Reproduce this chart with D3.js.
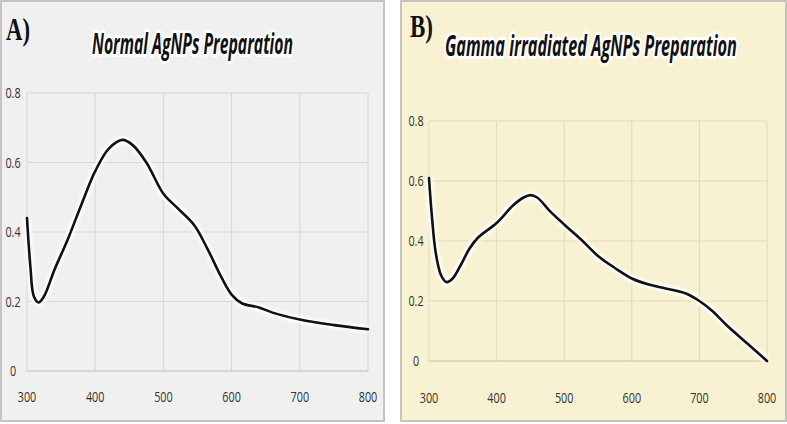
<!DOCTYPE html>
<html>
<head>
<meta charset="utf-8">
<style>
  body { margin: 0; background: #fff; }
  svg { display: block; }
</style>
</head>
<body>
<div class="chartContainer"></div>

<script src="https://d3js.org/d3.v7.min.js"></script>
<script>
    // data (wavelength nm, absorbance)
    const normalWl  = [300, 305, 310, 317, 325, 340, 360, 380, 400, 420, 440, 455, 475, 500, 520, 545, 565, 585, 600, 615, 640, 660, 700, 750, 800];
    const normalAbs = [0.44, 0.30, 0.215, 0.197, 0.215, 0.29, 0.38, 0.48, 0.575, 0.64, 0.665, 0.65, 0.60, 0.51, 0.47, 0.42, 0.35, 0.27, 0.22, 0.195, 0.183, 0.168, 0.148, 0.132, 0.12];

    const gammaWl  = [300, 304, 310, 318, 326, 335, 347, 360, 372, 400, 425, 440, 450, 460, 480, 500, 525, 550, 575, 600, 625, 650, 680, 700, 720, 740, 770, 800];
    const gammaAbs = [0.61, 0.49, 0.36, 0.285, 0.263, 0.275, 0.32, 0.375, 0.41, 0.46, 0.52, 0.545, 0.553, 0.545, 0.497, 0.455, 0.405, 0.35, 0.31, 0.275, 0.255, 0.242, 0.225, 0.20, 0.165, 0.12, 0.06, 0.0];

    const xTicks = [300, 400, 500, 600, 700, 800];
    const yTicks = [0, 0.2, 0.4, 0.6, 0.8];

    const svg = d3.select('.chartContainer')
                  .append('svg')
                  .attr('width', 787)
                  .attr('height', 424);

    // soft white glow behind curve
    const defs = svg.append('defs');
    defs.append('filter').attr('id', 'glow')
        .attr('x', '-10%').attr('y', '-10%').attr('width', '120%').attr('height', '120%')
        .append('feGaussianBlur').attr('stdDeviation', 1.6);

    // squeeze a text horizontally so it spans w pixels from x
    function fitText(sel, x, y, w) {
      const n = sel.node().getComputedTextLength();
      sel.attr('transform', `translate(${x},${y}) scale(${w / n},1)`);
    }

    function panel(opt) {
      const g = svg.append('g');

      // panel background
      g.append('rect')
       .attr('x', opt.box[0] + 1).attr('y', opt.box[1] + 1)
       .attr('width', opt.box[2] - 2).attr('height', opt.box[3] - 2)
       .style('fill', opt.bg).style('stroke', '#c4c4c4').style('stroke-width', 2);

      const x = d3.scaleLinear().domain([300, 800]).range(opt.xr);
      const y = d3.scaleLinear().domain([0, 0.8]).range(opt.yr);

      // grid
      g.append('g').selectAll('line').data(xTicks).enter().append('line')
       .attr('x1', d => x(d)).attr('x2', d => x(d))
       .attr('y1', y(0)).attr('y2', y(0.8))
       .style('stroke', opt.grid).style('stroke-width', 1);
      g.append('g').selectAll('line').data(yTicks).enter().append('line')
       .attr('x1', x(300)).attr('x2', x(800))
       .attr('y1', d => y(d)).attr('y2', d => y(d))
       .style('stroke', d => d === 0 ? opt.axis : opt.grid).style('stroke-width', d => d === 0 ? 1.2 : 1);

      // tick labels (narrow face)
      g.append('g').selectAll('text').data(xTicks).enter().append('text')
       .attr('transform', d => `translate(${x(d)},${opt.xLabY}) scale(0.72,1)`)
       .attr('text-anchor', 'middle')
       .style('font-family', 'Open Sans').style('font-size', '15px').style('fill', '#333')
       .text(d => d);
      g.append('g').selectAll('text').data(yTicks).enter().append('text')
       .attr('transform', d => `translate(${opt.yLabX},${y(d) + 5}) scale(0.72,1)`)
       .attr('text-anchor', 'middle')
       .style('font-family', 'Open Sans').style('font-size', '15px').style('fill', '#333')
       .text(d => d);

      // curve
      const pts = opt.wl.map((w, i) => [w, opt.abs[i]]);
      const line = d3.line().x(d => x(d[0])).y(d => y(d[1])).curve(d3.curveCatmullRom.alpha(0.5));
      g.append('path').attr('d', line(pts))
       .style('fill', 'none').style('stroke', '#fff').style('stroke-width', 7)
       .style('stroke-linejoin', 'round').attr('filter', 'url(#glow)');
      g.append('path').attr('d', line(pts))
       .style('fill', 'none').style('stroke', '#111').style('stroke-width', 2.6)
       .style('stroke-linejoin', 'round').style('stroke-linecap', 'round');

      // panel letter
      const lt = g.append('text')
       .style('font-family', 'Liberation Serif').style('font-weight', 'bold')
       .style('font-size', '32px').style('fill', '#111')
       .text(opt.letterText);
      fitText(lt, opt.letter[0], opt.letter[1], opt.letter[2]);

      // title with white halo
      const tt = g.append('text')
       .style('font-family', 'Open Sans').style('font-weight', 'bold').style('font-style', 'italic')
       .style('font-size', '29px').style('fill', '#111')
       .style('stroke', '#fff').style('stroke-width', 6).style('stroke-linejoin', 'round')
       .style('paint-order', 'stroke')
       .text(opt.titleText);
      fitText(tt, opt.title[0], opt.title[1], opt.title[2]);
    }

    panel({
      box: [0, 0, 385, 422], bg: '#f0f0f0', grid: '#d6d6d6', axis: '#bdbdbd',
      xr: [27, 368], yr: [371, 93], xLabY: 402, yLabX: 13,
      wl: normalWl, abs: normalAbs,
      letter: [6, 40, 24], letterText: 'A)',
      title: [92, 54, 201], titleText: 'Normal AgNPs Preparation'
    });

    panel({
      box: [400, 0, 387, 422], bg: '#f8f2d3', grid: '#e0dab8', axis: '#c6c0a0',
      xr: [429, 767], yr: [361, 121], xLabY: 403, yLabX: 416,
      wl: gammaWl, abs: gammaAbs,
      letter: [410, 37, 23], letterText: 'B)',
      title: [445, 56, 292], titleText: 'Gamma irradiated AgNPs Preparation'
    });
</script>
</body>
</html>
